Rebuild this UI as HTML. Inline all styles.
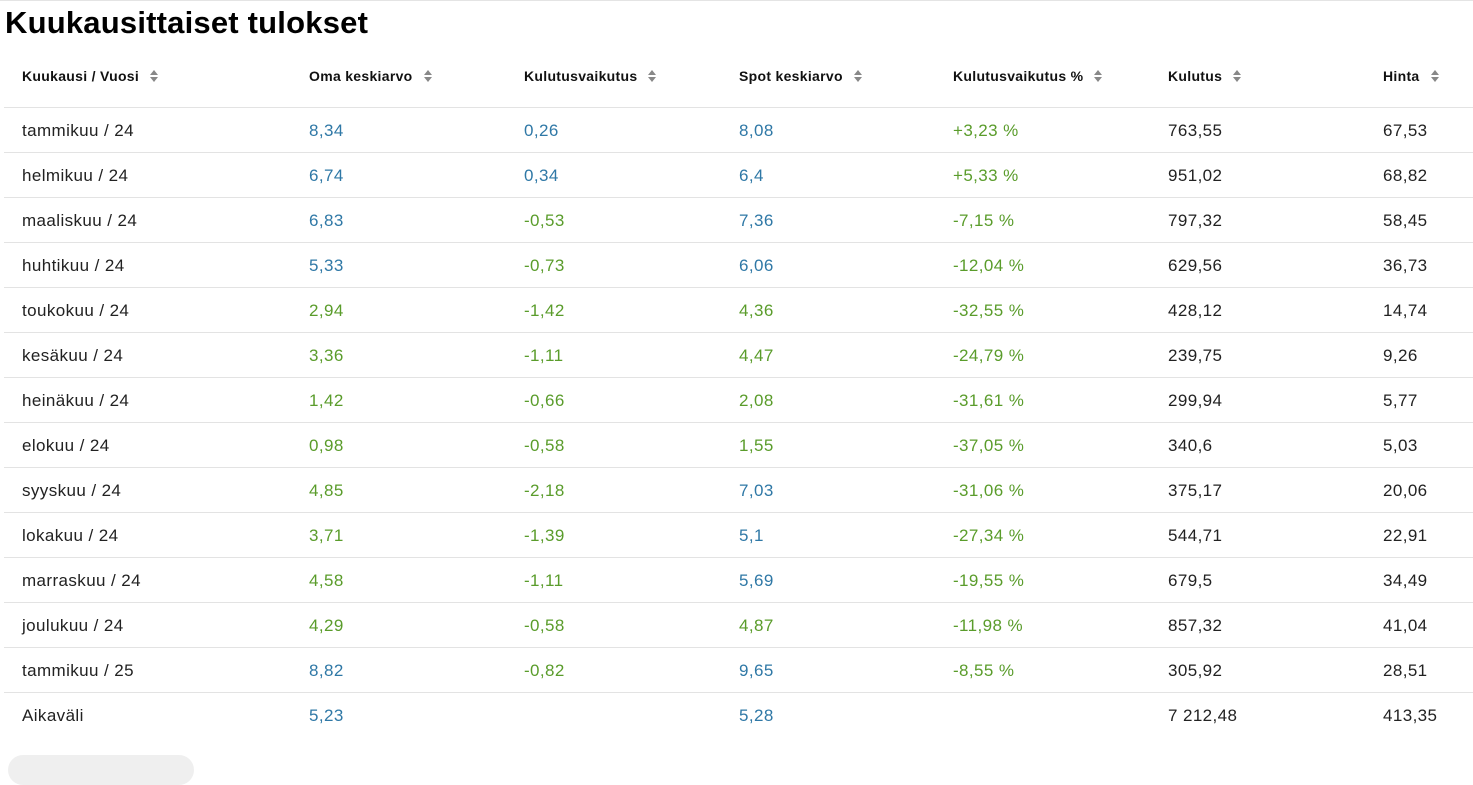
<!DOCTYPE html>
<html><head><meta charset="utf-8"><style>
body{margin:0;width:1473px;height:762px;overflow:hidden;background:#fff;font-family:"Liberation Sans",sans-serif;color:#222;position:relative}
.top{position:absolute;left:0;top:0;width:1473px;height:1px;background:#e4e4e4}
h1{position:absolute;left:5px;top:5px;margin:0;font-size:31px;font-weight:bold;color:#000;letter-spacing:0.2px}
.c{position:absolute;white-space:nowrap}
.h{font-size:14px;font-weight:bold;color:#111;letter-spacing:0.3px}
.s{display:inline-block;margin-left:11px;vertical-align:middle;width:8px;height:12px;position:relative;top:-1px}
.s:before{content:"";position:absolute;left:0;top:0;border-left:4px solid transparent;border-right:4px solid transparent;border-bottom:5px solid #888}
.s:after{content:"";position:absolute;left:0;top:7px;border-left:4px solid transparent;border-right:4px solid transparent;border-top:5px solid #888}
.line{position:absolute;left:4px;width:1469px;height:1px;background:#e3e3e3}
.d{font-size:17px;letter-spacing:0.4px}
.b{color:#2f78a6}.g{color:#5a9c2b}
.pill{position:absolute;left:8px;top:755px;width:186px;height:30px;border-radius:15px;background:#efefef}
</style></head><body>
<div class="top"></div>
<h1>Kuukausittaiset tulokset</h1>
<div id="t"></div>
<div class="pill"></div>
<script>
const xs=[22,309,524,739,953,1168,1383];
const hd=["Kuukausi / Vuosi","Oma keskiarvo","Kulutusvaikutus","Spot keskiarvo","Kulutusvaikutus %","Kulutus","Hinta"];
let h="";
hd.forEach((t,i)=>h+=`<div class="c h" style="left:${xs[i]}px;top:68px">${t}<span class="s"></span></div>`);
h+=`<div class="line" style="top:107px"></div>`;
const R=[
["tammikuu / 24","b8,34","b0,26","b8,08","g+3,23 %","763,55","67,53"],
["helmikuu / 24","b6,74","b0,34","b6,4","g+5,33 %","951,02","68,82"],
["maaliskuu / 24","b6,83","g-0,53","b7,36","g-7,15 %","797,32","58,45"],
["huhtikuu / 24","b5,33","g-0,73","b6,06","g-12,04 %","629,56","36,73"],
["toukokuu / 24","g2,94","g-1,42","g4,36","g-32,55 %","428,12","14,74"],
["kesäkuu / 24","g3,36","g-1,11","g4,47","g-24,79 %","239,75","9,26"],
["heinäkuu / 24","g1,42","g-0,66","g2,08","g-31,61 %","299,94","5,77"],
["elokuu / 24","g0,98","g-0,58","g1,55","g-37,05 %","340,6","5,03"],
["syyskuu / 24","g4,85","g-2,18","b7,03","g-31,06 %","375,17","20,06"],
["lokakuu / 24","g3,71","g-1,39","b5,1","g-27,34 %","544,71","22,91"],
["marraskuu / 24","g4,58","g-1,11","b5,69","g-19,55 %","679,5","34,49"],
["joulukuu / 24","g4,29","g-0,58","g4,87","g-11,98 %","857,32","41,04"],
["tammikuu / 25","b8,82","g-0,82","b9,65","g-8,55 %","305,92","28,51"],
["Aikaväli","b5,23","","b5,28","","7 212,48","413,35"]];
R.forEach((r,j)=>{const cy=130+45*j;
r.forEach((v,i)=>{if(!v)return;let cls="";if(i>0&&i<5){cls=v[0];v=v.slice(1);}
h+=`<div class="c d ${cls}" style="left:${xs[i]}px;top:${cy-9}px">${v}</div>`;});
if(j<R.length-1)h+=`<div class="line" style="top:${cy+22}px"></div>`;});
document.getElementById("t").innerHTML=h;
</script>
</body></html>
